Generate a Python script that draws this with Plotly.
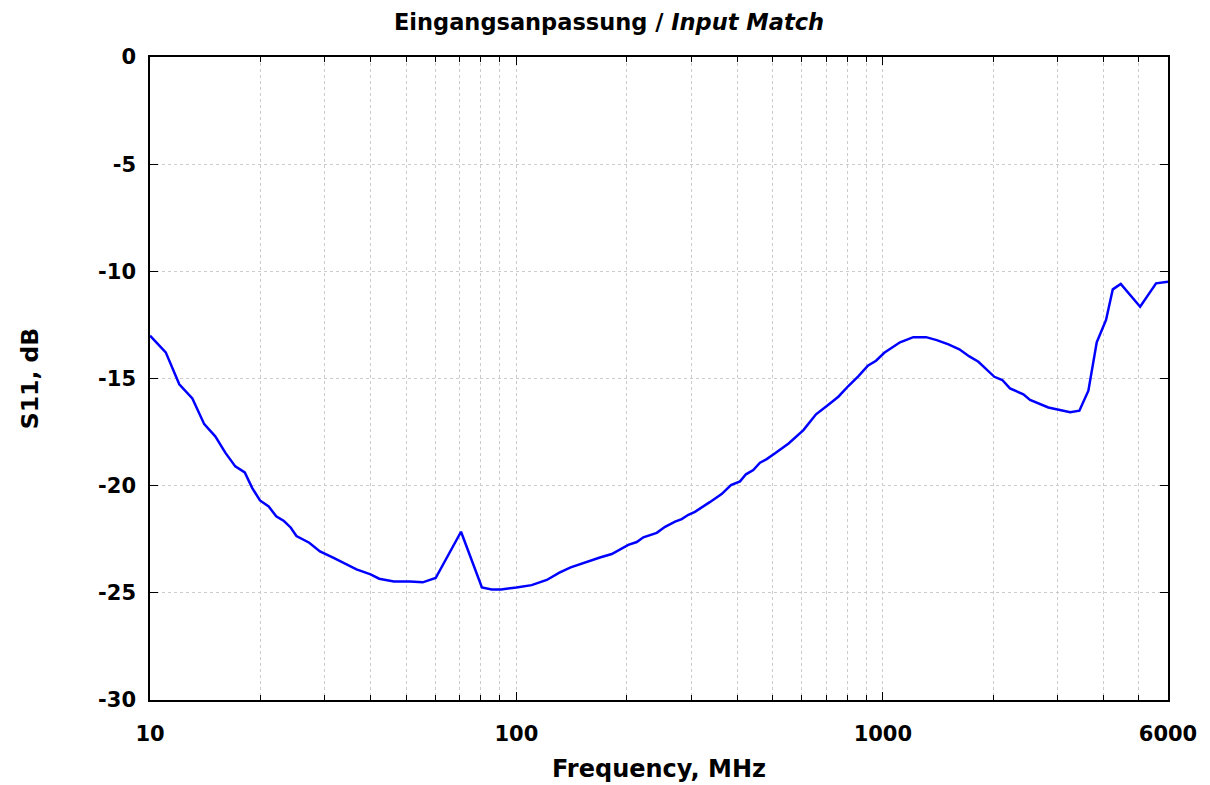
import plotly.graph_objects as go

freq_mhz = [10, 11.04, 12.02, 13.05, 14.06, 15.07, 16.05, 17.09, 18.14, 19.0, 19.96, 21.08, 22.1, 23.2, 24.2,
            25.1, 27.2, 29.1, 31.6, 34.4, 36.6, 40.0, 42.2, 46.3, 51.2, 55.5, 60.2, 70.6, 75.5, 80.5, 85.6,
            90.8, 100, 110, 121, 131, 140.6, 155.5, 169, 182, 192, 202, 213, 222, 241.5, 254.5, 271, 282.5,
            294.6, 307, 337, 363, 385, 407.5, 423, 443, 462, 482, 508, 553, 607, 657, 703, 756, 805, 858,
            910, 958, 1009, 1114, 1211, 1312, 1403, 1510, 1617, 1722, 1823, 1913, 2015, 2118, 2223, 2418,
            2522, 2829, 3013, 3245, 3438, 3638, 3834, 4065, 4241, 4459, 5036, 5567, 6000]
s11_db = [-13.0, -13.78, -15.27, -15.93, -17.13, -17.70, -18.46, -19.10, -19.38, -20.1, -20.69, -20.97, -21.43,
          -21.65, -21.95, -22.35, -22.66, -23.07, -23.36, -23.69, -23.91, -24.14, -24.34, -24.47, -24.47,
          -24.51, -24.31, -22.15, -23.44, -24.75, -24.84, -24.84, -24.75, -24.64, -24.40, -24.06, -23.81,
          -23.55, -23.35, -23.19, -22.97, -22.76, -22.63, -22.41, -22.2, -21.92, -21.68, -21.56, -21.36,
          -21.22, -20.77, -20.39, -19.97, -19.8, -19.47, -19.27, -18.93, -18.76, -18.49, -18.03, -17.41,
          -16.67, -16.28, -15.85, -15.35, -14.89, -14.40, -14.17, -13.80, -13.31, -13.07, -13.07, -13.21,
          -13.41, -13.64, -13.97, -14.22, -14.57, -14.92, -15.07, -15.46, -15.74, -16.0, -16.35, -16.44,
          -16.57, -16.5, -15.57, -13.31, -12.27, -10.84, -10.59, -11.65, -10.56, -10.48]

x_major_ticks = [10, 100, 1000, 6000]
x_major_labels = ["10", "100", "1000", "6000"]
x_minor_ticks = [20, 30, 40, 50, 60, 70, 80, 90, 200, 300, 400, 500, 600, 700, 800, 900,
                 2000, 3000, 4000, 5000]
y_ticks = [0, -5, -10, -15, -20, -25, -30]
y_labels = ["0", "-5", "-10", "-15", "-20", "-25", "-30"]

title_text = "Eingangsanpassung / <i>Input Match</i>"
x_title = "Frequency, MHz"
y_title = "S11, dB"

font_family = "DejaVu Sans, sans-serif"

fig = go.Figure()
fig.add_trace(go.Scatter(x=freq_mhz, y=s11_db, mode="lines",
                         line=dict(color="#0000ff", width=2.5), showlegend=False))

grid_color = "#cccccc"
fig.update_layout(
    width=1202, height=777,
    margin=dict(l=142, r=42, t=49, b=85, autoexpand=False),
    paper_bgcolor="white", plot_bgcolor="white",
    font=dict(family=font_family, color="black"),
    title=dict(text="<b>" + title_text + "</b>", x=0.5, xanchor="center", y=0.982, yanchor="middle",
               font=dict(size=22.5, family=font_family, color="black")),
    xaxis=dict(
        type="log", range=[1, 3.77815125], automargin=False,
        tickmode="array", tickvals=x_major_ticks, ticktext=["<b>%s</b>" % t for t in x_major_labels],
        tickfont=dict(size=21, family=font_family),
        ticks="inside", ticklen=8, tickwidth=1, tickcolor="black",
        ticklabelstandoff=14,
        showline=True, linecolor="black", linewidth=1.5, mirror="allticks",
        showgrid=True, gridcolor=grid_color, griddash="dot", gridwidth=1,
        minor=dict(tickmode="array", tickvals=x_minor_ticks, ticks="inside", ticklen=5,
                   tickcolor="black", showgrid=True, gridcolor=grid_color, griddash="dot", gridwidth=1),
        title=dict(text="<b>" + x_title + "</b>", font=dict(size=24, family=font_family), standoff=15),
        zeroline=False,
    ),
    yaxis=dict(
        range=[-30, 0], automargin=False,
        tickmode="array", tickvals=y_ticks, ticktext=["<b>%s</b>" % t for t in y_labels],
        tickfont=dict(size=21, family=font_family),
        ticks="inside", ticklen=8, tickwidth=1, tickcolor="black",
        ticklabelstandoff=8,
        showline=True, linecolor="black", linewidth=1.5, mirror="allticks",
        showgrid=True, gridcolor=grid_color, griddash="dot", gridwidth=1,
        title=dict(text="<b>" + y_title + "</b>", font=dict(size=23.5, family=font_family), standoff=53),
        zeroline=False,
    ),
)

fig.write_html("out.html")
